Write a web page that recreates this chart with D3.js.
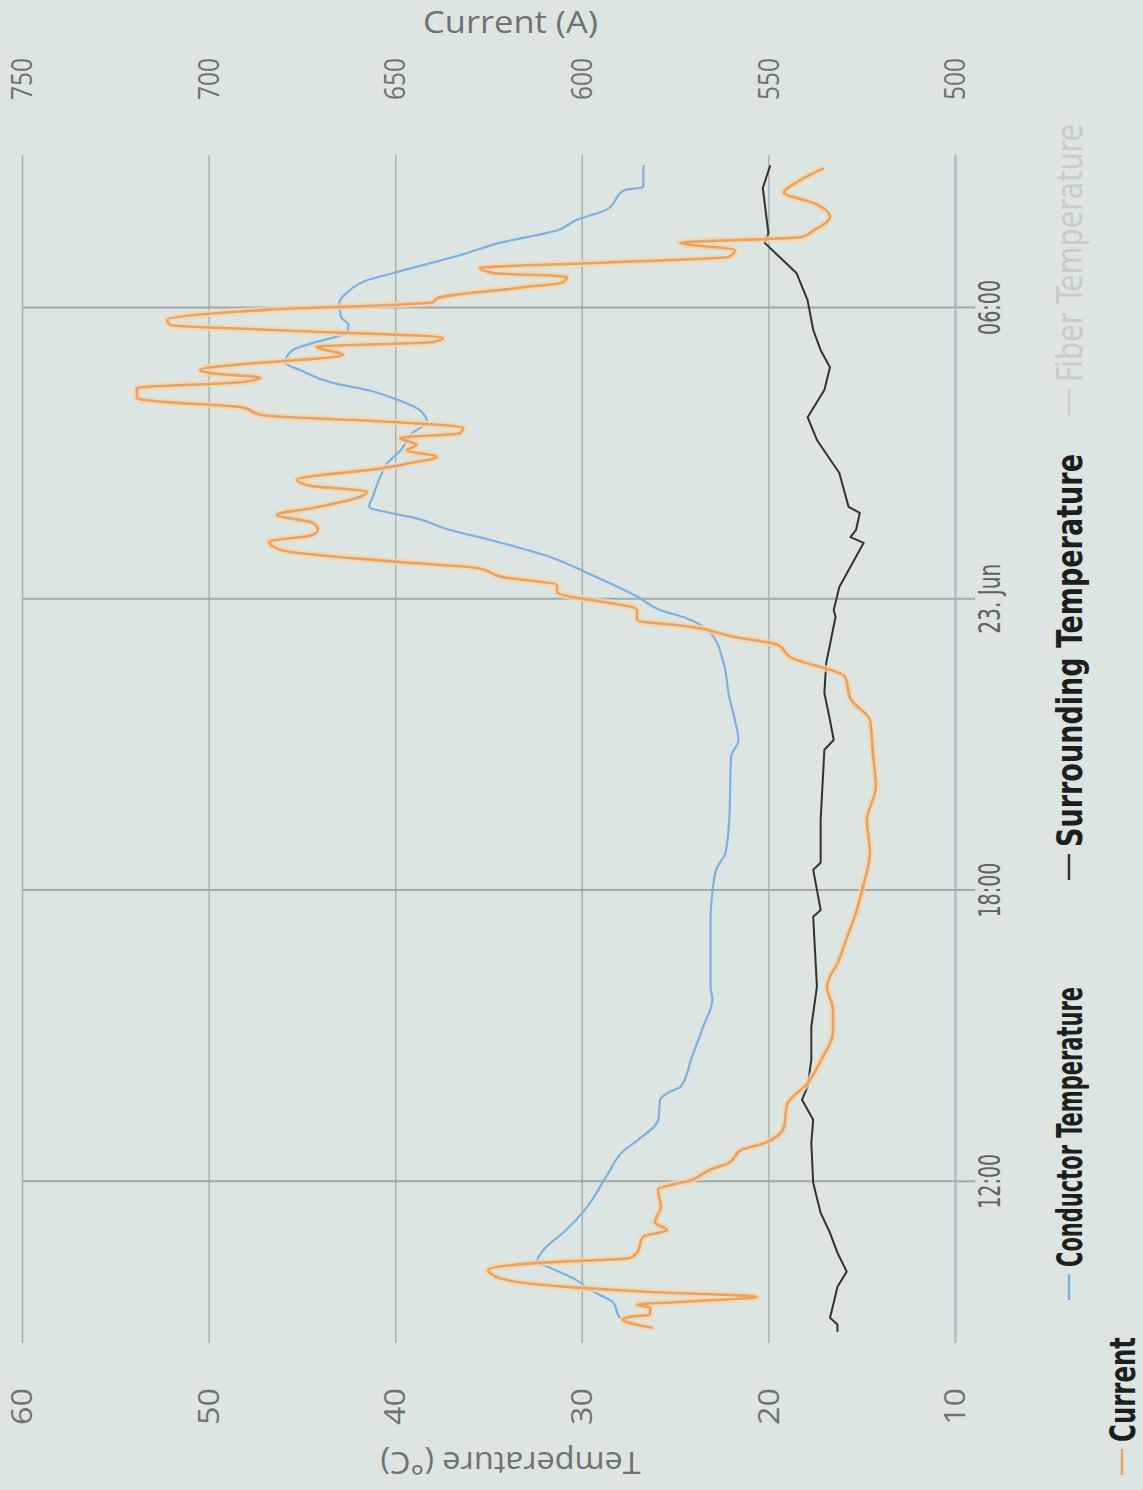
<!DOCTYPE html>
<html>
<head>
<meta charset="utf-8">
<script src="https://cdn.jsdelivr.net/npm/d3@7"></script>
<style>
body { margin: 0; background: #dce5e2; }
svg { display: block; }
</style>
</head>
<body>
<svg id="chart" width="1143" height="1490"></svg>
<script>
// times are hours counted from 22 Jun 00:00
var condHours = [9.01, 9.12, 9.22, 9.51, 9.78, 9.98, 10.23, 10.35, 10.66, 10.95, 11.49, 12.10, 12.66, 12.86, 13.28, 13.69, 13.83, 13.96, 14.57, 15.19, 15.75, 16.02, 17.40, 17.96, 18.43, 18.78, 19.45, 20.75, 21.10, 21.51, 21.99, 22.69, 23.31, 23.61, 23.78, 24.05, 24.54, 24.87, 25.22, 25.43, 25.69, 25.78, 25.90, 26.11, 26.52, 26.81, 27.07, 27.42, 27.65, 27.90, 28.14, 28.31, 28.45, 28.72, 28.87, 29.13, 29.28, 29.50, 29.65, 29.81, 30.10, 30.31, 30.57, 30.72, 31.09, 31.34, 31.60, 31.81, 32.02, 32.43, 32.49, 32.94];
var condTemp = [26.7, 27.4, 28.0, 28.3, 29.6, 30.3, 31.7, 32.4, 31.9, 31.0, 29.7, 28.7, 27.7, 27.0, 25.9, 25.8, 25.4, 24.7, 24.1, 23.5, 23.0, 23.1, 23.1, 23.0, 22.8, 22.3, 22.1, 22.0, 21.6, 21.8, 22.1, 22.4, 23.1, 24.4, 25.8, 27.0, 29.7, 31.7, 34.9, 37.1, 39.1, 40.3, 41.4, 41.2, 40.8, 40.4, 39.7, 39.1, 38.3, 38.7, 40.1, 41.5, 43.3, 45.1, 45.9, 45.5, 44.4, 42.6, 42.5, 42.9, 43.0, 42.6, 41.5, 40.1, 36.5, 34.4, 31.3, 30.3, 28.7, 27.7, 26.7, 26.7];

var surrHours = [8.91, 9.06, 9.20, 9.51, 9.84, 10.15, 10.54, 10.95, 11.36, 11.98, 12.80, 13.28, 13.69, 13.96, 14.51, 15.19, 16.02, 17.46, 17.60, 18.43, 18.57, 19.45, 20.90, 21.10, 21.51, 22.07, 22.69, 23.64, 23.78, 24.25, 25.16, 25.28, 25.43, 25.78, 25.90, 26.60, 27.28, 27.75, 28.31, 28.78, 29.13, 29.55, 30.16, 30.72, 31.34, 31.54, 32.47, 32.94];
var surrTemp = [16.3, 16.3, 16.7, 16.5, 16.3, 15.8, 16.3, 16.7, 17.2, 17.6, 17.7, 17.6, 18.2, 17.9, 17.7, 17.7, 17.4, 17.6, 17.2, 17.6, 17.2, 17.2, 17.0, 16.5, 16.7, 17.0, 16.9, 16.4, 16.5, 16.2, 14.9, 15.6, 15.3, 15.1, 15.7, 16.2, 17.4, 17.9, 17.0, 16.7, 17.2, 17.6, 17.9, 18.5, 20.2, 20.0, 20.3, 19.9];

var currHours = [8.99, 9.16, 9.22, 9.26, 9.41, 9.47, 9.53, 9.63, 9.73, 9.82, 9.92, 10.08, 10.19, 10.33, 10.43, 10.54, 10.87, 11.01, 11.16, 11.49, 11.84, 12.04, 12.25, 12.39, 12.66, 12.80, 13.13, 13.59, 14.04, 14.51, 15.07, 15.54, 16.02, 16.57, 16.92, 17.60, 18.07, 18.78, 19.45, 20.13, 20.83, 21.51, 21.93, 22.40, 22.81, 23.06, 23.22, 23.43, 23.57, 23.78, 24.15, 24.29, 24.46, 24.64, 24.77, 25.01, 25.18, 25.32, 25.43, 25.57, 25.74, 25.88, 26.11, 26.21, 26.35, 26.46, 26.70, 26.83, 26.93, 27.07, 27.18, 27.32, 27.42, 27.53, 27.65, 27.79, 27.96, 28.06, 28.14, 28.35, 28.47, 28.56, 28.66, 28.72, 28.87, 28.93, 29.03, 29.20, 29.30, 29.38, 29.55, 29.65, 29.75, 29.96, 30.12, 30.20, 30.41, 30.53, 30.64, 30.72, 30.82, 30.93, 31.05, 31.19, 31.34, 31.46, 31.60, 31.87, 32.16, 32.37, 32.63, 32.88];
var currAmp = [580.9, 589.0, 587.1, 581.7, 581.7, 585.2, 572.9, 553.1, 581.7, 601.3, 615.8, 623.8, 625.1, 612.0, 587.1, 585.2, 583.6, 577.2, 580.4, 578.8, 579.6, 570.5, 565.6, 560.6, 557.3, 550.9, 545.8, 545.0, 539.4, 535.9, 532.7, 532.7, 534.3, 531.1, 529.5, 526.3, 524.7, 522.8, 523.6, 521.2, 522.0, 522.8, 527.9, 529.5, 544.2, 547.4, 559.0, 570.5, 585.2, 585.2, 606.6, 606.6, 621.4, 627.8, 649.3, 680.3, 683.8, 672.3, 670.7, 672.0, 681.7, 672.0, 659.4, 657.6, 673.6, 676.3, 653.3, 644.2, 638.8, 646.8, 644.2, 648.7, 632.6, 631.8, 650.6, 685.4, 691.6, 711.1, 719.2, 719.2, 691.6, 686.2, 699.6, 702.3, 686.2, 675.5, 664.0, 671.0, 639.9, 637.2, 684.4, 710.3, 711.1, 684.4, 639.9, 638.8, 617.4, 605.0, 604.0, 623.8, 627.3, 595.1, 560.6, 559.0, 573.7, 541.0, 537.8, 533.5, 537.8, 545.8, 541.5, 535.1];

var tempTicks = [10, 20, 30, 40, 50, 60];
var currTicks = [500, 550, 600, 650, 700, 750];
var legendNames = ["Conductor Temperature", "Surrounding Temperature", "Fiber Temperature", "Current"];
var legendColors = ["#7db1df", "#2f3333", "#c9cfce", "#e8a263"];

// the chart is laid out normally (1490 wide, 1143 high) and then turned a quarter left
var plot = {left: 147, right: 1335, top: 22, bottom: 955};
var day0 = new Date(2014, 5, 22);
function toDate(h) { return new Date(day0.getTime() + h * 3600000); }
var narrow = "'Liberation Sans Narrow','DejaVu Sans Condensed','Liberation Sans',sans-serif";
var wide = "'Open Sans','DejaVu Sans',sans-serif";

var svg = d3.select("#chart");
svg.append("rect").attr("width", 1143).attr("height", 1490).attr("fill", "#dce5e2");
var g = svg.append("g").attr("transform", "translate(0,1490) rotate(-90)");

var x = d3.scaleTime().domain([toDate(8.68), toDate(33.15)]).range([plot.left, plot.right]);
var yT = d3.scaleLinear().domain([10, 60]).range([plot.bottom, plot.top]);
var yI = d3.scaleLinear().domain([500, 750]).range([plot.bottom, plot.top]);
var timeTicks = x.ticks(d3.timeHour.every(6));

// temperature grid
g.append("g")
    .attr("transform", "translate(" + plot.left + ",0)")
    .call(d3.axisLeft(yT).tickValues(tempTicks).tickSize(-(plot.right - plot.left)).tickFormat(""))
    .call(function(a) { a.select(".domain").remove(); })
    .selectAll("line").attr("stroke", "#a9b1af").attr("stroke-width", 1.5);

// time grid
g.append("g")
    .attr("transform", "translate(0," + plot.bottom + ")")
    .call(d3.axisBottom(x).tickValues(timeTicks).tickSize(-(plot.bottom - plot.top)).tickFormat(""))
    .call(function(a) { a.select(".domain").remove(); })
    .selectAll("line").attr("stroke", "#a1aaa8").attr("stroke-width", 2);

// time axis
var fmtDay = d3.timeFormat("%-d. %b"), fmtHour = d3.timeFormat("%H:%M");
var xAxis = g.append("g")
    .attr("transform", "translate(0," + plot.bottom + ")")
    .call(d3.axisBottom(x).tickValues(timeTicks).tickSize(20).tickSizeOuter(0).tickPadding(4)
        .tickFormat(function(d) { return d.getHours() === 0 ? fmtDay(d) : fmtHour(d); }));
xAxis.select(".domain").attr("stroke", "#b1bfcb").attr("stroke-width", 2.5);
xAxis.selectAll(".tick line").attr("stroke", "#a1aaa8").attr("stroke-width", 2);
xAxis.selectAll("text")
    .attr("font-family", narrow).attr("font-size", 30).attr("fill", "#5c6262")
    .attr("textLength", function(d) { return d.getHours() === 0 ? 70 : 55; })
    .attr("lengthAdjust", "spacingAndGlyphs");

// temperature labels
var tAxis = g.append("g")
    .attr("transform", "translate(" + plot.left + ",0)")
    .call(d3.axisLeft(yT).tickValues(tempTicks).tickSize(0).tickPadding(45));
tAxis.select(".domain").remove();
tAxis.selectAll("text")
    .attr("font-family", wide).attr("font-size", 30).attr("fill", "#6c7372")
    .attr("textLength", 37).attr("lengthAdjust", "spacingAndGlyphs");

// current labels
var iAxis = g.append("g")
    .attr("transform", "translate(" + plot.right + ",0)")
    .call(d3.axisRight(yI).tickValues(currTicks).tickSize(0).tickPadding(55));
iAxis.select(".domain").remove();
iAxis.selectAll("text")
    .attr("font-family", wide).attr("font-size", 30).attr("fill", "#6c7372")
    .attr("textLength", 42).attr("lengthAdjust", "spacingAndGlyphs");

// axis titles
var midV = (plot.top + plot.bottom) / 2 + 22;
g.append("text")
    .attr("x", 38).attr("y", midV)
    .attr("transform", "rotate(-90,38," + midV + ")")
    .attr("text-anchor", "middle")
    .attr("font-family", wide).attr("font-size", 31).attr("fill", "#6c7372")
    .attr("textLength", 260).attr("lengthAdjust", "spacingAndGlyphs")
    .text("Temperature (°C)");
g.append("text")
    .attr("x", 1457).attr("y", midV)
    .attr("transform", "rotate(90,1457," + midV + ")")
    .attr("text-anchor", "middle")
    .attr("font-family", wide).attr("font-size", 31).attr("fill", "#6c7372")
    .attr("textLength", 175).attr("lengthAdjust", "spacingAndGlyphs")
    .text("Current (A)");

// series
function toPoints(hours, vals) {
    return hours.map(function(h, i) { return {t: toDate(h), v: vals[i]}; });
}
var lineT = d3.line().x(function(d) { return x(d.t); }).y(function(d) { return yT(d.v); });
var smoothT = d3.line().curve(d3.curveMonotoneX).x(function(d) { return x(d.t); }).y(function(d) { return yT(d.v); });
var smoothI = d3.line().curve(d3.curveMonotoneX).x(function(d) { return x(d.t); }).y(function(d) { return yI(d.v); });

g.append("path").datum(toPoints(condHours, condTemp))
    .attr("d", smoothT).attr("fill", "none").attr("stroke", "#7db1df").attr("stroke-width", 2.2)
    .attr("stroke-linejoin", "round");
g.append("path").datum(toPoints(surrHours, surrTemp))
    .attr("d", lineT).attr("fill", "none").attr("stroke", "#2f3333").attr("stroke-width", 2)
    .attr("stroke-linejoin", "round");
var currPts = toPoints(currHours, currAmp);
g.append("path").datum(currPts)
    .attr("d", smoothI).attr("fill", "none").attr("stroke", "#f6d4a8").attr("stroke-width", 7)
    .attr("stroke-opacity", 0.75).attr("stroke-linejoin", "round");
g.append("path").datum(currPts)
    .attr("d", smoothI).attr("fill", "none").attr("stroke", "#e8a263").attr("stroke-width", 2.6)
    .attr("stroke-linejoin", "round");

// legend
var legendItems = [
    {u: 190, v: 1082, len: 280, bold: true},
    {u: 610, v: 1082, len: 393, bold: true},
    {u: 1075, v: 1082, len: 258, bold: false},
    {u: 15, v: 1135, len: 105, bold: true}
];
var leg = g.append("g").selectAll("g").data(legendItems).enter().append("g");
leg.append("line")
    .attr("x1", function(d) { return d.u; }).attr("x2", function(d) { return d.u + 26; })
    .attr("y1", function(d) { return d.v - 13; }).attr("y2", function(d) { return d.v - 13; })
    .attr("stroke", function(d, i) { return legendColors[i]; }).attr("stroke-width", 2.5);
leg.append("text")
    .attr("x", function(d) { return d.u + 33; }).attr("y", function(d) { return d.v; })
    .attr("font-family", narrow).attr("font-size", 36)
    .attr("font-weight", function(d) { return d.bold ? "bold" : "normal"; })
    .attr("fill", function(d, i) { return i === 2 ? "#c6cccb" : "#1d1f1f"; })
    .attr("textLength", function(d) { return d.len; }).attr("lengthAdjust", "spacingAndGlyphs")
    .text(function(d, i) { return legendNames[i]; });
</script>
</body>
</html>
